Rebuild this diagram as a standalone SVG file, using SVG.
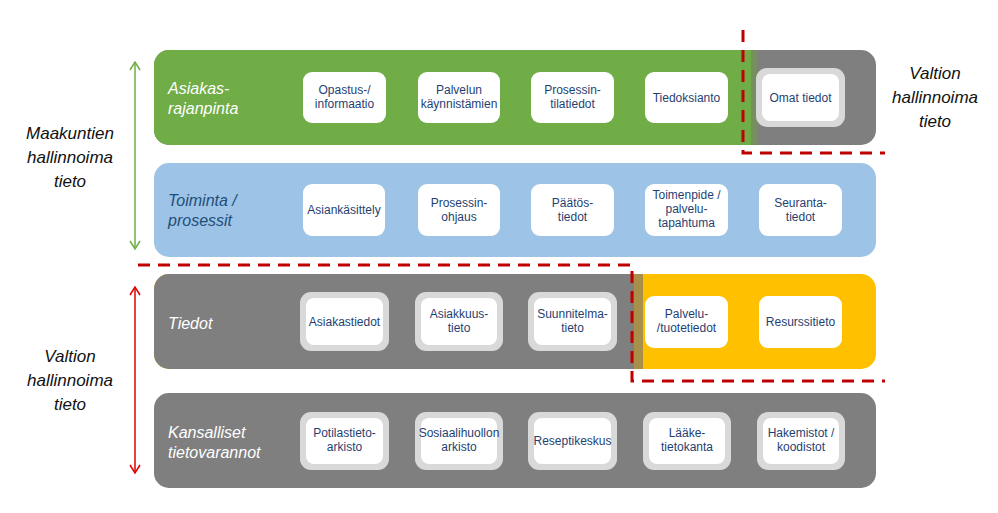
<svg xmlns="http://www.w3.org/2000/svg" width="998" height="513" viewBox="0 0 998 513">
<style>
.side{font-family:"Liberation Sans",Arial,sans-serif;font-style:italic;font-size:17px;fill:#111;text-anchor:middle}
.band{font-family:"Liberation Sans",Arial,sans-serif;font-style:italic;font-size:16px;fill:#fff}
.bandb{font-family:"Liberation Sans",Arial,sans-serif;font-style:italic;font-size:16px;fill:#1F4E79}
.bt{font-family:"Liberation Sans",Arial,sans-serif;font-size:12px;fill:#1F3F73;text-anchor:middle}
.wb{fill:#fff}
.gb{fill:#D9D9D9}
.dash{fill:none;stroke:#C00000;stroke-width:3;stroke-dasharray:12 8}
</style>
<defs>
<marker id="ag" viewBox="0 0 12 12" refX="11" refY="6" markerWidth="12" markerHeight="12" markerUnits="userSpaceOnUse" orient="auto-start-reverse">
<polyline points="3,1 11,6 3,11" fill="none" stroke="#70AD47" stroke-width="1.5"/>
</marker>
<marker id="ar" viewBox="0 0 12 12" refX="11" refY="6" markerWidth="12" markerHeight="12" markerUnits="userSpaceOnUse" orient="auto-start-reverse">
<polyline points="3,1 11,6 3,11" fill="none" stroke="#E00000" stroke-width="1.5"/>
</marker>
</defs>
<rect width="998" height="513" fill="#fff"/>

<!-- Bands -->
<g id="band-asiakas">
<rect x="154" y="50" width="722" height="95" rx="15" fill="#7F7F7F"/>
<path d="M169,50 H751 V145 H169 A15,15 0 0 1 154,130 V65 A15,15 0 0 1 169,50 Z" fill="#70AD47"/>
<rect x="751" y="50" width="6" height="95" fill="#768F5E"/>
<text class="band" x="168" y="94">Asiakas-</text>
<text class="band" x="168" y="114">rajanpinta</text>
</g>
<g id="band-toiminta">
<rect x="154" y="163" width="722" height="94" rx="15" fill="#9DC3E6"/>
<text class="bandb" x="168" y="206">Toiminta /</text>
<text class="bandb" x="168" y="226">prosessit</text>
</g>
<g id="band-tiedot">
<rect x="154" y="274" width="722" height="95" rx="15" fill="#FFC000"/>
<path d="M169,274 H634 V369 H169 A15,15 0 0 1 154,354 V289 A15,15 0 0 1 169,274 Z" fill="#7F7F7F"/>
<rect x="634" y="274" width="9" height="95" fill="#A8904A"/>
<text class="band" x="168" y="329">Tiedot</text>
</g>
<g id="band-kansalliset">
<rect x="154" y="393" width="722" height="95" rx="15" fill="#7F7F7F"/>
<text class="band" x="168" y="438">Kansalliset</text>
<text class="band" x="168" y="458">tietovarannot</text>
</g>

<!-- Band 1 boxes -->
<g id="n-opastus"><rect class="wb" x="303" y="72" width="83" height="51" rx="9"/><text class="bt" x="344.5" y="94">Opastus-/</text><text class="bt" x="344.5" y="108">informaatio</text></g>
<g id="n-palvelun"><rect class="wb" x="418" y="72" width="82" height="51" rx="9"/><text class="bt" x="459" y="94">Palvelun</text><text class="bt" x="459" y="108">käynnistämien</text></g>
<g id="n-prosessintila"><rect class="wb" x="531" y="72" width="83" height="51" rx="9"/><text class="bt" x="572.5" y="94">Prosessin-</text><text class="bt" x="572.5" y="108">tilatiedot</text></g>
<g id="n-tiedoksianto"><rect class="wb" x="645" y="72" width="83" height="51" rx="9"/><text class="bt" x="686.5" y="102">Tiedoksianto</text></g>
<g id="n-omat"><rect class="gb" x="756" y="68" width="89" height="59" rx="11"/><rect class="wb" x="762" y="74" width="77" height="47" rx="8"/><text class="bt" x="800.5" y="102">Omat tiedot</text></g>

<!-- Band 2 boxes -->
<g id="n-asiankasittely"><rect class="wb" x="303" y="184" width="82" height="52" rx="9"/><text class="bt" x="344" y="214">Asiankäsittely</text></g>
<g id="n-prosessinohjaus"><rect class="wb" x="418" y="184" width="82" height="52" rx="9"/><text class="bt" x="459" y="207">Prosessin-</text><text class="bt" x="459" y="221">ohjaus</text></g>
<g id="n-paatos"><rect class="wb" x="531" y="184" width="83" height="52" rx="9"/><text class="bt" x="572.5" y="207">Päätös-</text><text class="bt" x="572.5" y="221">tiedot</text></g>
<g id="n-toimenpide"><rect class="wb" x="645" y="184" width="83" height="52" rx="9"/><text class="bt" x="686.5" y="199">Toimenpide /</text><text class="bt" x="686.5" y="213">palvelu-</text><text class="bt" x="686.5" y="227">tapahtuma</text></g>
<g id="n-seuranta"><rect class="wb" x="759" y="184" width="83" height="52" rx="9"/><text class="bt" x="800.5" y="207">Seuranta-</text><text class="bt" x="800.5" y="221">tiedot</text></g>

<!-- Band 3 boxes -->
<g id="n-asiakastiedot"><rect class="gb" x="300" y="292" width="89" height="59" rx="11"/><rect class="wb" x="306" y="298" width="77" height="47" rx="8"/><text class="bt" x="344.5" y="326">Asiakastiedot</text></g>
<g id="n-asiakkuus"><rect class="gb" x="415" y="292" width="88" height="59" rx="11"/><rect class="wb" x="421" y="298" width="76" height="47" rx="8"/><text class="bt" x="459" y="318">Asiakkuus-</text><text class="bt" x="459" y="332">tieto</text></g>
<g id="n-suunnitelma"><rect class="gb" x="528" y="292" width="89" height="59" rx="11"/><rect class="wb" x="534" y="298" width="77" height="47" rx="8"/><text class="bt" x="572.5" y="318">Suunnitelma-</text><text class="bt" x="572.5" y="332">tieto</text></g>
<g id="n-palvelutuote"><rect class="wb" x="645" y="296" width="83" height="52" rx="9"/><text class="bt" x="686.5" y="318">Palvelu-</text><text class="bt" x="686.5" y="332">/tuotetiedot</text></g>
<g id="n-resurssi"><rect class="wb" x="759" y="296" width="83" height="52" rx="9"/><text class="bt" x="800.5" y="326">Resurssitieto</text></g>

<!-- Band 4 boxes -->
<g id="n-potilas"><rect class="gb" x="300" y="412" width="89" height="58" rx="11"/><rect class="wb" x="306" y="418" width="77" height="46" rx="8"/><text class="bt" x="344.5" y="437">Potilastieto-</text><text class="bt" x="344.5" y="451">arkisto</text></g>
<g id="n-sosiaali"><rect class="gb" x="415" y="412" width="88" height="58" rx="11"/><rect class="wb" x="421" y="418" width="76" height="46" rx="8"/><text class="bt" x="459" y="437">Sosiaalihuollon</text><text class="bt" x="459" y="451">arkisto</text></g>
<g id="n-resepti"><rect class="gb" x="528" y="412" width="89" height="58" rx="11"/><rect class="wb" x="534" y="418" width="77" height="46" rx="8"/><text class="bt" x="572.5" y="445">Reseptikeskus</text></g>
<g id="n-laake"><rect class="gb" x="643" y="412" width="88" height="58" rx="11"/><rect class="wb" x="649" y="418" width="76" height="46" rx="8"/><text class="bt" x="687" y="437">Lääke-</text><text class="bt" x="687" y="451">tietokanta</text></g>
<g id="n-hakemistot"><rect class="gb" x="757" y="412" width="88" height="58" rx="11"/><rect class="wb" x="763" y="418" width="76" height="46" rx="8"/><text class="bt" x="801" y="437">Hakemistot /</text><text class="bt" x="801" y="451">koodistot</text></g>

<!-- Side labels -->
<g id="label-maakuntien">
<text class="side" x="70" y="139">Maakuntien</text>
<text class="side" x="70" y="163">hallinnoima</text>
<text class="side" x="70" y="187">tieto</text>
</g>
<g id="label-valtion-left">
<text class="side" x="70" y="362">Valtion</text>
<text class="side" x="70" y="386">hallinnoima</text>
<text class="side" x="70" y="410">tieto</text>
</g>
<g id="label-valtion-right">
<text class="side" x="935" y="79">Valtion</text>
<text class="side" x="935" y="103">hallinnoima</text>
<text class="side" x="935" y="127">tieto</text>
</g>

<!-- Connectors -->
<g id="connectors">
<line x1="135" y1="62" x2="135" y2="249" stroke="#70AD47" stroke-width="1.5" marker-start="url(#ag)" marker-end="url(#ag)"/>
<line x1="135" y1="287" x2="135" y2="473" stroke="#E00000" stroke-width="1.5" marker-start="url(#ar)" marker-end="url(#ar)"/>
<path class="dash" d="M743,30 V153 H885"/>
<path class="dash" d="M138,265 H632 V381 H885"/>
</g>
</svg>
